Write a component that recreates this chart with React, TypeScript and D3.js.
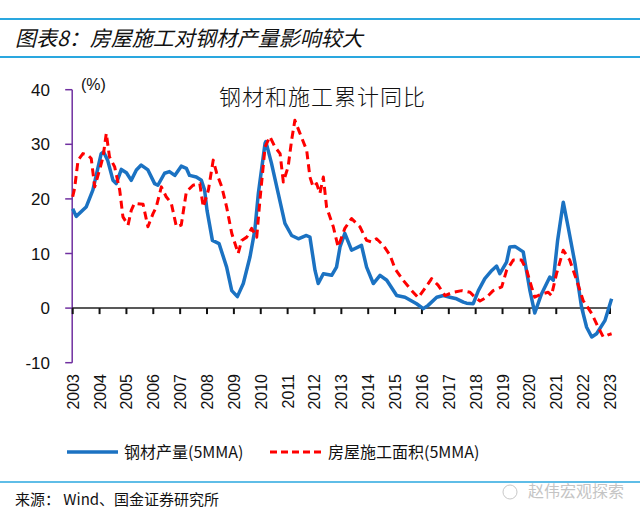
import React from "react";
import * as d3 from "d3";

const steelDates = [2003.0,2003.13,2003.5,2003.75,2004.06,2004.15,2004.3,2004.5,2004.62,2004.81,2005.0,2005.18,2005.37,2005.55,2005.8,2006.05,2006.17,2006.42,2006.6,2006.8,2007.04,2007.23,2007.35,2007.6,2007.79,2007.91,2008.0,2008.2,2008.45,2008.73,2008.92,2009.13,2009.35,2009.6,2009.78,2009.91,2010.16,2010.19,2010.4,2010.65,2010.9,2011.15,2011.4,2011.7,2011.83,2012.02,2012.14,2012.33,2012.64,2012.82,2012.95,2013.13,2013.38,2013.75,2013.94,2014.19,2014.44,2014.69,2015.06,2015.37,2015.8,2016.05,2016.23,2016.55,2016.8,2017.04,2017.29,2017.54,2017.66,2017.91,2018.1,2018.34,2018.6,2018.78,2018.9,2019.15,2019.27,2019.46,2019.77,2020.02,2020.2,2020.45,2020.76,2020.89,2021.05,2021.26,2021.44,2021.7,2021.94,2022.13,2022.32,2022.5,2022.81,2023.06];
const steelValues = [18.2,16.8,18.5,21.6,28.3,28.6,27.1,23.4,22.8,25.4,24.8,23.4,25.3,26.2,25.3,22.8,22.5,24.7,25.0,24.3,26.0,25.6,24.3,24.0,23.4,21.6,17.9,12.4,11.8,7.5,3.2,2.1,4.5,9.4,14.3,21.0,30.2,30.5,26.5,21.0,15.5,13.3,12.7,13.3,13.0,6.9,4.5,6.3,6.0,7.5,11.2,13.7,10.6,11.5,7.5,4.5,6.0,5.1,2.3,2.0,0.8,-0.1,0.5,2.0,2.3,2.0,1.7,1.1,0.9,0.8,3.2,5.4,6.9,7.7,6.3,8.4,11.2,11.3,10.3,3.2,-0.9,2.6,5.7,5.1,12.4,19.4,14.9,8.1,0.2,-3.5,-5.3,-4.7,-2.3,1.7];

const areaDates = [2003.0,2003.07,2003.2,2003.38,2003.57,2003.69,2003.82,2004.0,2004.13,2004.25,2004.37,2004.56,2004.75,2004.87,2005.06,2005.18,2005.3,2005.62,2005.8,2005.99,2006.11,2006.3,2006.48,2006.67,2006.86,2007.04,2007.23,2007.48,2007.73,2007.86,2008.05,2008.23,2008.36,2008.55,2008.73,2008.92,2009.16,2009.29,2009.48,2009.66,2009.85,2009.97,2010.16,2010.34,2010.53,2010.72,2010.84,2011.02,2011.15,2011.27,2011.46,2011.71,2011.83,2011.95,2012.08,2012.2,2012.33,2012.45,2012.7,2012.88,2013.13,2013.38,2013.69,2013.94,2014.13,2014.31,2014.56,2014.81,2015.0,2015.3,2015.62,2015.86,2016.11,2016.36,2016.6,2016.86,2017.16,2017.48,2017.79,2017.97,2018.16,2018.41,2018.65,2018.97,2019.15,2019.4,2019.71,2019.9,2020.08,2020.2,2020.45,2020.7,2020.82,2021.01,2021.26,2021.5,2021.76,2022.0,2022.32,2022.56,2022.75,2022.93,2023.06];
const areaValues = [20.4,21.9,27.1,28.3,28.0,27.4,22.2,25.3,27.7,32.0,27.7,25.9,21.6,16.7,15.2,17.9,19.2,19.0,14.9,17.3,18.5,22.2,20.4,19.2,14.9,15.2,21.3,22.5,22.8,18.5,21.6,27.1,24.7,22.2,18.5,13.7,10.0,12.4,13.0,14.6,13.0,19.8,29.5,31.4,29.5,28.3,23.1,25.9,30.8,34.4,32.0,28.9,24.0,22.2,22.8,21.0,24.0,18.5,14.9,11.2,14.6,16.4,14.9,12.4,12.1,12.7,11.5,9.7,7.2,5.1,3.2,1.9,3.6,5.4,4.2,2.3,2.9,3.2,2.9,2.0,1.3,2.0,3.2,3.9,6.9,8.8,8.8,6.9,3.9,2.0,2.6,2.9,2.3,6.3,10.6,8.8,5.1,1.4,-1.0,-3.5,-5.3,-4.9,-4.7];

const yearTicks = d3.range(2003, 2024);
const yTicks = [40, 30, 20, 10, 0, -10];

const titleText = "图表8：房屋施工对钢材产量影响较大";
const chartTitle = "钢材和施工累计同比";
const legendSteel = "钢材产量(5MMA)";
const legendArea = "房屋施工面积(5MMA)";
const sourceText = "来源： Wind、国金证券研究所";
const watermark = "赵伟宏观探索";

const BLUE = "#1b72c2";
const RED = "#ff0000";
const PURPLE = "#7030a0";
const RULE = "#2aa7df";

export default function App() {
  const x = d3.scaleLinear().domain([2003, 2023]).range([72.7, 610]);
  const y = d3.scaleLinear().domain([-10, 40]).range([362.7, 89.7]);

  const line = d3
    .line<[number, number]>()
    .x((d) => x(d[0]))
    .y((d) => y(d[1]));

  const steel: [number, number][] = steelDates.map((t, i) => [t, steelValues[i]]);
  const area: [number, number][] = areaDates.map((t, i) => [t, areaValues[i]]);

  const axisX = x(2003) - 0.5;
  const zeroY = y(0);
  const sans = "'Liberation Sans', Arial, sans-serif";
  const cjk = "'Noto Sans CJK SC', sans-serif";

  return (
    <svg width={640} height={517} style={{ position: "absolute", left: 0, top: 0, background: "#fff" }}>
      <rect x={0} y={0} width={640} height={517} fill="#fff" />
      <line x1={0} x2={640} y1={19} y2={19} stroke={RULE} strokeWidth={2} />
      <line x1={0} x2={640} y1={57} y2={57} stroke={RULE} strokeWidth={2} />
      <text x={15} y={46} fontFamily={cjk} fontSize={21} fontStyle="italic" fontWeight={400} fill="#111">
        {titleText}
      </text>

      <text x={219} y={105} fontFamily={cjk} fontSize={22} fontWeight={300} fill="#111" letterSpacing={1}>
        {chartTitle}
      </text>
      <text x={81} y={90} fontFamily={sans} fontSize={16} fill="#111">(%)</text>

      <line x1={axisX} x2={axisX} y1={y(40)} y2={y(-10)} stroke={PURPLE} strokeWidth={1.5} />
      {yTicks.map((v) => (
        <g key={v}>
          <line x1={axisX - 7} x2={axisX} y1={y(v)} y2={y(v)} stroke={PURPLE} strokeWidth={1.5} />
          <text x={50} y={y(v) + 6} textAnchor="end" fontFamily={sans} fontSize={17} fill="#111">
            {v}
          </text>
        </g>
      ))}

      <line x1={axisX} x2={x(2023) + 1} y1={zeroY} y2={zeroY} stroke="#222" strokeWidth={1.5} />
      {yearTicks.map((yr) => (
        <g key={yr}>
          <line x1={x(yr)} x2={x(yr)} y1={zeroY} y2={zeroY + 6} stroke="#111" strokeWidth={2} />
          <text
            transform={`translate(${x(yr) + 6},374) rotate(-90)`}
            textAnchor="end"
            fontFamily={sans}
            fontSize={16}
            fill="#111"
          >
            {yr}
          </text>
        </g>
      ))}

      <path d={line(steel) || ""} fill="none" stroke={BLUE} strokeWidth={3.5} strokeLinejoin="round" />
      <path d={line(area) || ""} fill="none" stroke={RED} strokeWidth={3} strokeDasharray="8,5" strokeLinejoin="round" />

      <line x1={67} x2={118} y1={452} y2={452} stroke={BLUE} strokeWidth={3.5} />
      <text x={124} y={458} fontFamily={cjk} fontSize={16} fill="#111">{legendSteel}</text>
      <line x1={270} x2={322} y1={452} y2={452} stroke={RED} strokeWidth={3} strokeDasharray="7,4" />
      <text x={328} y={458} fontFamily={cjk} fontSize={16} fill="#111">{legendArea}</text>

      <line x1={0} x2={640} y1={482} y2={482} stroke={RULE} strokeWidth={1.5} />
      <text x={15} y={505} fontFamily={cjk} fontSize={15} fill="#111">{sourceText}</text>
      <circle cx={510} cy={492} r={7} fill="none" stroke="#c8c8c8" strokeWidth={1} />
      <text x={528} y={497} fontFamily={cjk} fontSize={16} fill="#c4c4c4">{watermark}</text>
    </svg>
  );
}
